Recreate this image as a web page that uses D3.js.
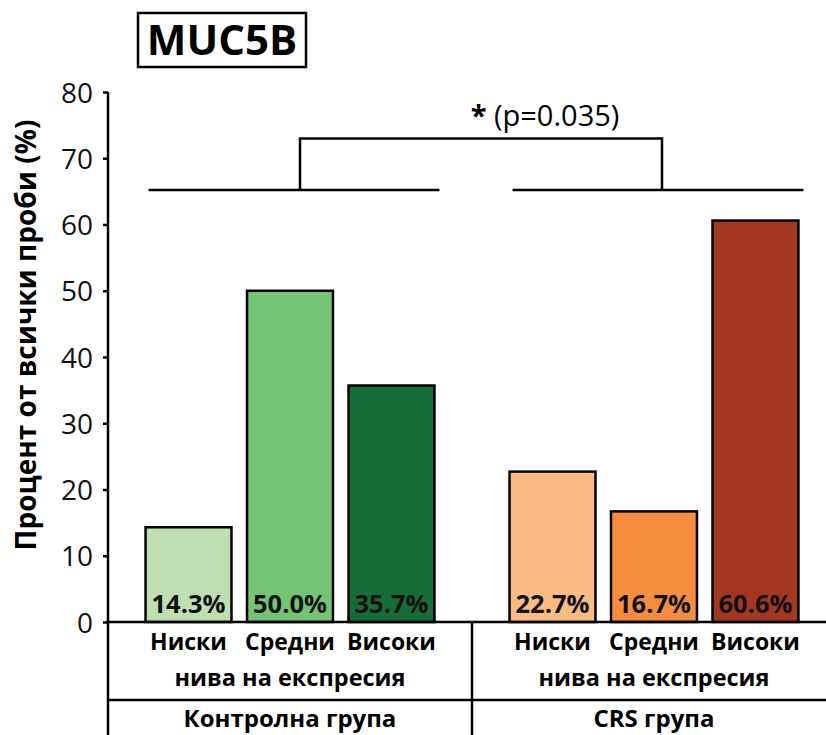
<!DOCTYPE html>
<html>
<head>
<meta charset="utf-8">
<script src="https://cdn.jsdelivr.net/npm/d3@7"></script>
<style>
  body { margin: 0; background: #fff; }
  svg, svg text { font-family: "Open Sans", sans-serif; }
</style>
</head>
<body>
<svg id="chart"></svg>
<script>
// MUC5B expression levels, control vs CRS group
const groups = ["Контролна група", "CRS група"];
const levels = ["Ниски", "Средни", "Високи"];
const controlValues = [14.3, 50.0, 35.7];
const crsValues = [22.7, 16.7, 60.6];
const groupColors = [
    ["#bfdfb3", "#74c476", "#156e38"],
    ["#fbbc84", "#f58c3e", "#a33722"]
];
const yTicks = [0, 10, 20, 30, 40, 50, 60, 70, 80];
const bracketBase = 65.2, bracketTop = 73;
const pLabel = "(p=0.035)";

const width = 826, height = 735;
const svg = d3.select("#chart").attr("width", width).attr("height", height);

const y = d3.scaleLinear().domain([0, 80]).range([622, 92]);
const xGroup = d3.scaleBand().domain(groups).range([108, 836]).padding(0);
const xLevel = d3.scaleBand().domain(levels).range([0, xGroup.bandwidth()])
    .paddingInner(0.153).paddingOuter(0.37);

const data = groups.map((g, gi) => ({
    group: g,
    bars: levels.map((l, li) => ({ level: l, value: (gi === 0 ? controlValues : crsValues)[li], color: groupColors[gi][li] }))
}));

// title box
svg.append("rect")
    .attr("x", 138).attr("y", 13).attr("width", 168).attr("height", 54)
    .attr("fill", "none").attr("stroke", "#000").attr("stroke-width", 2.5);
svg.append("text")
    .attr("x", 222).attr("y", 55)
    .attr("text-anchor", "middle")
    .style("font-size", "42px").style("font-weight", "bold")
    .text("MUC5B");

// y axis
const yAxis = svg.append("g")
    .attr("transform", "translate(108,0)")
    .call(d3.axisLeft(y).tickValues(yTicks).tickSize(5).tickPadding(10));
yAxis.select(".domain").remove();
yAxis.attr("font-family", null);
yAxis.selectAll("line").attr("stroke", "#000").attr("stroke-width", 2.5);
yAxis.selectAll("text").style("font-size", "28px").attr("fill", "#111").attr("dy", "0.36em");

svg.append("text")
    .attr("transform", "translate(36,335) rotate(-90)")
    .attr("text-anchor", "middle")
    .style("font-size", "28px").style("font-weight", "bold")
    .text("Процент от всички проби (%)");

// bars
const gs = svg.selectAll(".grp").data(data).enter().append("g")
    .attr("class", "grp")
    .attr("transform", d => `translate(${xGroup(d.group)},0)`);

gs.selectAll("rect").data(d => d.bars).enter().append("rect")
    .attr("x", d => xLevel(d.level))
    .attr("y", d => y(d.value))
    .attr("width", xLevel.bandwidth())
    .attr("height", d => y(0) - y(d.value))
    .attr("fill", d => d.color)
    .attr("stroke", "#000").attr("stroke-width", 2.5);

gs.selectAll(".val").data(d => d.bars).enter().append("text")
    .attr("class", "val")
    .attr("x", d => xLevel(d.level) + xLevel.bandwidth() / 2)
    .attr("y", 613)
    .attr("text-anchor", "middle")
    .style("font-size", "25.5px").style("font-weight", "bold")
    .attr("fill", "#111")
    .text(d => d.value.toFixed(1) + "%");

gs.selectAll(".lvl").data(d => d.bars).enter().append("text")
    .attr("class", "lvl")
    .attr("x", d => xLevel(d.level) + xLevel.bandwidth() / 2)
    .attr("y", 650)
    .attr("text-anchor", "middle")
    .style("font-size", "23px").style("font-weight", "bold")
    .text(d => d.level);

gs.append("text")
    .attr("x", xGroup.bandwidth() / 2)
    .attr("y", 686)
    .attr("text-anchor", "middle")
    .style("font-size", "23.5px").style("font-weight", "bold")
    .text("нива на експресия");

gs.append("text")
    .attr("x", xGroup.bandwidth() / 2)
    .attr("y", 727)
    .attr("text-anchor", "middle")
    .style("font-size", "24px").style("font-weight", "bold")
    .text(d => d.group);

// axis frame and table lines
const line = (x1, y1, x2, y2) => svg.append("line")
    .attr("x1", x1).attr("y1", y1).attr("x2", x2).attr("y2", y2)
    .attr("stroke", "#000").attr("stroke-width", 2.5);
line(108, y(80), 108, height);
line(106, y(0), width, y(0));
line(108, 700, width, 700);
line(xGroup(groups[1]), y(0), xGroup(groups[1]), height);

// significance bracket
const spans = groups.map(g => [xGroup(g) + xLevel(levels[0]) + 3, xGroup(g) + xLevel(levels[2]) + xLevel.bandwidth() + 5]);
spans.forEach(s => line(s[0], y(bracketBase), s[1], y(bracketBase)));
const legX = [300, 662];
svg.append("path")
    .attr("d", `M${legX[0]},${y(bracketBase)}V${y(bracketTop)}H${legX[1]}V${y(bracketBase)}`)
    .attr("fill", "none").attr("stroke", "#000").attr("stroke-width", 2.5);

const sig = svg.append("text")
    .attr("x", 545).attr("y", 126)
    .attr("text-anchor", "middle")
    .style("font-size", "29px");
sig.append("tspan").style("font-weight", "bold").text("* ");
sig.append("tspan").text(pLabel);
</script>
</body>
</html>
